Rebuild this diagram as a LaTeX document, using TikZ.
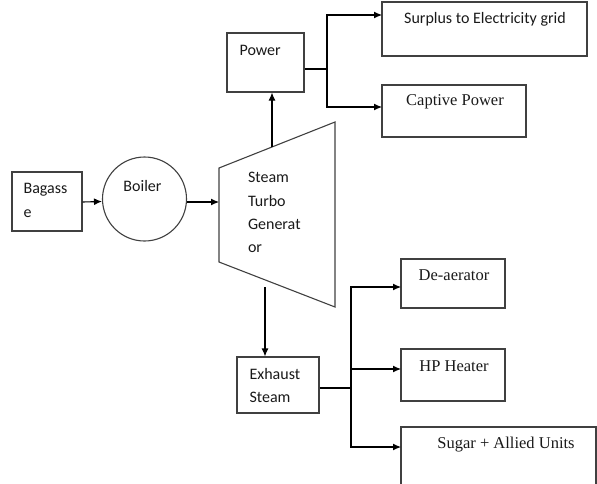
\documentclass[tikz,border=0pt]{standalone}
\usepackage{fontspec}
\setmainfont{Carlito}
\newfontfamily\serifx{Liberation Serif}
\usetikzlibrary{arrows.meta}
\begin{document}
\begin{tikzpicture}[x=1pt,y=-1pt,line width=1.1pt,
  box/.style={draw=black!75,rectangle,inner sep=0pt},
  arr/.style={draw=black,-{Latex[length=8pt,width=7pt]}},
  lin/.style={draw=black},
  sans/.style={font=\fontsize{16}{23.3}\selectfont,inner sep=0pt,align=left,text=black!90},
  serif/.style={font=\serifx\fontsize{16.5}{20}\selectfont,inner sep=0pt,text=black!90}]
\useasboundingbox (0,0) rectangle (597,483);
% boxes
\node[box,minimum width=70pt,minimum height=59pt] (bag) at (47,201.5) {};
\node[draw=black!75,circle,minimum size=84pt,inner sep=0pt] (boiler) at (144.5,199) {};
\node[box,minimum width=77pt,minimum height=59pt] (power) at (265.5,62.5) {};
\node[box,minimum width=205pt,minimum height=54pt] (surplus) at (484.5,29) {};
\node[box,minimum width=144pt,minimum height=52pt] (captive) at (454,111) {};
\node[box,minimum width=82pt,minimum height=56pt] (exh) at (278,385) {};
\node[box,minimum width=104pt,minimum height=49pt] (dea) at (453,283.5) {};
\node[box,minimum width=104pt,minimum height=52pt] (hp) at (453,375) {};
\node[box,minimum width=195pt,minimum height=80pt] (sugar) at (498.5,467) {};
% turbine
\coordinate (t1) at (219,168);
\coordinate (t2) at (335,122);
\coordinate (t3) at (335,307);
\coordinate (t4) at (219,262);
\draw[draw=black!75] (t1) -- (t2) -- (t3) -- (t4) -- cycle;
% texts
\node[sans,anchor=north west] (tbag) at (23,183) {Bagass\\e};
\node[sans,anchor=north] (tboiler) at (142.5,179.5) {Boiler};
\node[sans,anchor=north west] (tturb) at (247.5,172) {Steam\\Turbo\\Generat\\or};
\node[sans,anchor=north west] (tpower) at (239,44.5) {Power};
\node[sans,anchor=north] (tsurplus) at (485,12) {Surplus to Electricity grid};
\node[serif,anchor=north] (tcaptive) at (455,94.5) {Captive Power};
\node[sans,anchor=north west] (texh) at (249,367.5) {Exhaust\\Steam};
\node[serif,anchor=north] (tdea) at (454,269.5) {De-aerator};
\node[serif,anchor=north] (thp) at (454,360.5) {HP Heater};
\node[serif,anchor=north] (tsugar) at (506,436) {Sugar + Allied Units};
% connectors
\coordinate (tin) at (219,202);
\draw[arr] (bag.east |- tin) -- (bag.east -| boiler.west);
\draw[arr] (boiler.east |- tin) -- (tin);
\coordinate (tup) at (272,147);
\draw[arr] (tup) -- (tup |- power.south);
\coordinate (pj) at (327,69);
\coordinate (sIn) at (382,15);
\coordinate (cIn) at (382,107);
\draw[lin] (power.east |- pj) -- (pj);
\draw[arr] (pj) |- (sIn);
\draw[arr] (pj) |- (cIn);
\coordinate (tdown) at (265,287);
\draw[arr] (tdown) -- (tdown |- exh.north);
\coordinate (ej) at (351,388);
\coordinate (dIn) at (401,287);
\coordinate (hIn) at (401,369);
\coordinate (gIn) at (401,447);
\draw[lin] (exh.east |- ej) -- (ej);
\draw[arr] (ej) |- (dIn);
\draw[arr] (ej) |- (hIn);
\draw[arr] (ej) |- (gIn);
\end{tikzpicture}
\end{document}
